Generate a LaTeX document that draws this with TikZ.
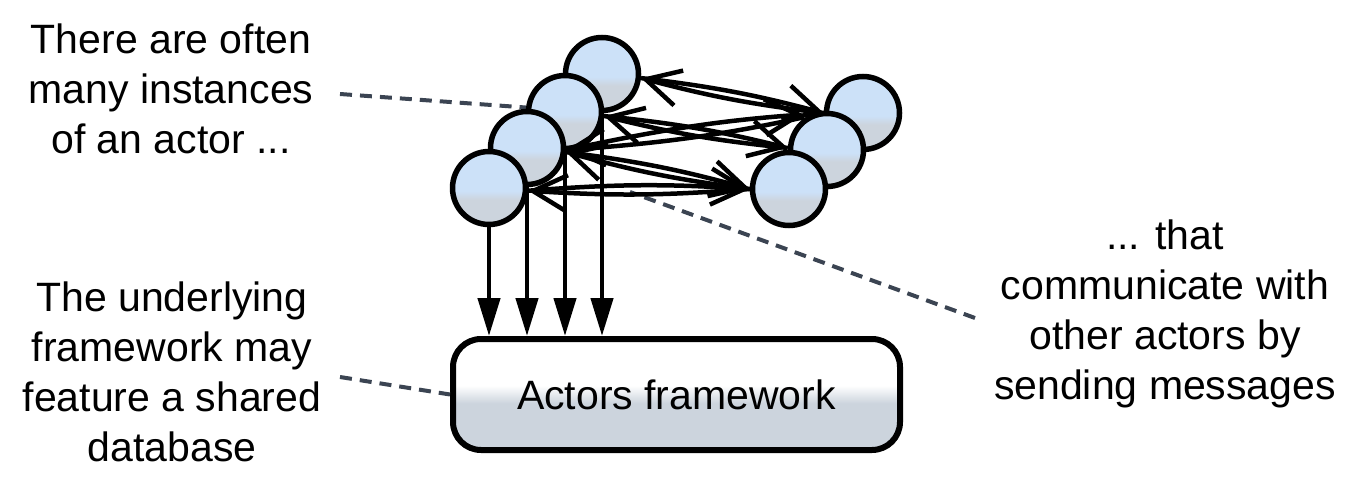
\documentclass[tikz,border=0pt]{standalone}
\usepackage{fontspec}
\setmainfont{Liberation Sans}
\usetikzlibrary{arrows.meta}
\definecolor{ctop}{HTML}{CCE1F8}
\definecolor{cbot}{HTML}{CCD4DD}
\definecolor{dashc}{HTML}{3B4452}
\pgfdeclareverticalshading{actorsh}{100bp}{color(0bp)=(cbot); color(42bp)=(cbot); color(48bp)=(ctop); color(100bp)=(ctop)}
\pgfdeclareverticalshading{boxsh}{100bp}{color(0bp)=(cbot); color(46bp)=(cbot); color(54bp)=(white); color(100bp)=(white)}
\begin{document}
\begin{tikzpicture}[x=1pt,y=-1pt,
  actor/.style={circle, draw=black, line width=5.5pt, minimum size=73pt, inner sep=0pt, shading=actorsh},
  fw/.style={rectangle, draw=black, line width=6pt, rounded corners=28pt, minimum width=447pt, minimum height=111pt, shading=boxsh, font=\fontsize{41}{50}\selectfont},
  txt/.style={align=center, inner sep=0pt, font=\fontsize{41}{50}\selectfont},
  msg/.style={line width=4.5pt, -{Straight Barb[length=34pt, width=36pt]}},
  downarr/.style={line width=4.5pt, -{Triangle[length=38pt, width=22pt]}},
  annot/.style={draw=dashc, line width=4pt, dash pattern=on 12pt off 8pt}
]
\useasboundingbox (0,0) rectangle (1359,486);

% text
\node[txt] (t1) at (171,89) {There are often\\many instances\\of an actor ...};
\node[txt] (t2) at (1165,314) {... that\\communicate with\\other actors by\\sending messages};
\node[txt] (t3) at (172,372) {The underlying\\framework may\\feature a shared\\database};

% framework box
\node[fw] (fw) at (676.5,394.5) {Actors framework};

% actor circles (back to front)
\node[actor] (L1) at (602,74) {};
\node[actor] (R1) at (863,113) {};
\coordinate (d1) at (340,94);
\coordinate (d2s) at (975,318);
\coordinate (d2e) at (630,192);
\coordinate (d3) at (340,377);
\draw[annot] (d1) -- (560,110);
\node[actor] (L2) at (565,112) {};
\node[actor] (L3) at (527,148) {};
\node[actor] (L4) at (489,188) {};
\node[actor] (R2) at (827,150) {};
\node[actor] (R3) at (789,189) {};

% annotation lines
\draw[annot] (d2s) -- (d2e);
\draw[annot] (d3) -- (fw.west);

% vertical arrows to the framework
\draw[downarr] (L4.south) -- (L4.south |- fw.north);
\draw[downarr] (L3.south) -- (L3.south |- fw.north);
\draw[downarr] (L2.south) -- (L2.south |- fw.north);
\draw[downarr] (L1.south) -- (L1.south |- fw.north);

% message pairs
\draw[msg] (L1.-6) to[bend left=4] (R1.180);
\draw[msg] (R1.180) to[bend left=4] (L1.-6);
\draw[msg] (L2.-6) to[bend left=4] (R2.177);
\draw[msg] (R2.177) to[bend left=4] (L2.-6);
\draw[msg, shorten >=20pt] (L3.-3) to[bend left=4] (R1.180);
\draw[msg, shorten <=20pt] (R1.180) to[bend left=4] (L3.-3);
\draw[msg] (L3.-6) to[bend left=4] (R3.180);
\draw[msg] (R3.180) to[bend left=4] (L3.-6);
\draw[msg] (L4.-4) to[bend left=4] (R3.180);
\draw[msg] (R3.180) to[bend left=4] (L4.-4);
\end{tikzpicture}
\end{document}
